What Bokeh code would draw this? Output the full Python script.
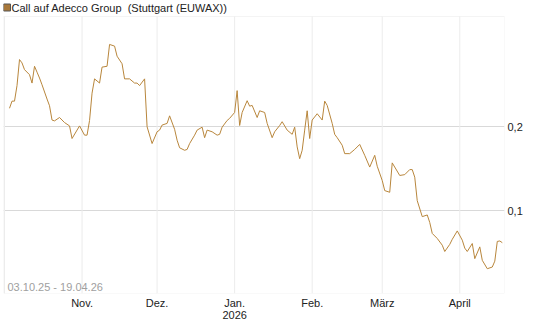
from datetime import datetime
import pandas as pd
from bokeh.plotting import figure
from bokeh.models import (Range1d, FixedTicker, CustomJSTickFormatter, LinearAxis,
                          Grid, Label, BoxAnnotation, ColumnDataSource)
from bokeh.embed import file_html
from bokeh.resources import INLINE

title_text = "Call auf Adecco Group \u00a0(Stuttgart (EUWAX))"
range_text = "03.10.25 - 19.04.26"

dates = [
    "2025-10-03", "2025-10-04", "2025-10-05", "2025-10-06", "2025-10-07", "2025-10-08",
    "2025-10-09", "2025-10-11", "2025-10-12", "2025-10-13", "2025-10-14", "2025-10-15",
    "2025-10-16", "2025-10-18", "2025-10-19", "2025-10-20", "2025-10-21", "2025-10-23",
    "2025-10-25", "2025-10-27", "2025-10-28", "2025-10-31",
    "2025-11-02", "2025-11-03", "2025-11-04", "2025-11-05", "2025-11-06", "2025-11-08",
    "2025-11-09", "2025-11-11", "2025-11-12", "2025-11-14", "2025-11-15", "2025-11-17",
    "2025-11-18", "2025-11-20", "2025-11-22", "2025-11-23", "2025-11-24", "2025-11-26",
    "2025-11-27", "2025-11-29",
    "2025-12-01", "2025-12-02", "2025-12-03", "2025-12-05", "2025-12-06", "2025-12-08",
    "2025-12-09", "2025-12-10", "2025-12-12", "2025-12-13", "2025-12-14", "2025-12-16",
    "2025-12-17", "2025-12-19", "2025-12-20", "2025-12-21", "2025-12-23", "2025-12-25",
    "2025-12-26", "2025-12-27", "2025-12-29", "2025-12-30",
    "2026-01-01", "2026-01-02", "2026-01-03", "2026-01-04", "2026-01-06", "2026-01-07",
    "2026-01-08", "2026-01-10", "2026-01-11", "2026-01-13", "2026-01-14", "2026-01-16",
    "2026-01-17", "2026-01-19", "2026-01-20", "2026-01-22", "2026-01-24", "2026-01-25",
    "2026-01-26", "2026-01-27", "2026-01-28", "2026-01-29", "2026-01-30", "2026-01-31",
    "2026-02-01", "2026-02-03", "2026-02-05", "2026-02-06", "2026-02-07", "2026-02-09",
    "2026-02-10", "2026-02-11", "2026-02-13", "2026-02-14", "2026-02-16", "2026-02-18",
    "2026-02-20", "2026-02-22", "2026-02-24", "2026-02-26", "2026-02-27",
    "2026-03-01", "2026-03-02", "2026-03-04", "2026-03-05", "2026-03-08", "2026-03-10",
    "2026-03-12", "2026-03-13", "2026-03-14", "2026-03-15", "2026-03-17", "2026-03-19",
    "2026-03-20", "2026-03-21", "2026-03-23", "2026-03-25", "2026-03-26", "2026-03-28",
    "2026-03-29", "2026-03-31",
    "2026-04-02", "2026-04-03", "2026-04-04", "2026-04-06", "2026-04-07", "2026-04-09",
    "2026-04-10", "2026-04-12", "2026-04-14", "2026-04-15", "2026-04-16", "2026-04-17",
    "2026-04-18",
]

prices = [
    0.222, 0.2305, 0.2305, 0.249, 0.280, 0.276,
    0.268, 0.262, 0.252, 0.272, 0.265, 0.258,
    0.250, 0.233, 0.225, 0.208, 0.207, 0.211,
    0.205, 0.201, 0.186, 0.201,
    0.190, 0.190, 0.2075, 0.240, 0.257, 0.252,
    0.271, 0.272, 0.298, 0.296, 0.284, 0.275,
    0.257, 0.257, 0.252, 0.252, 0.249, 0.257,
    0.200, 0.180,
    0.194, 0.196, 0.202, 0.204, 0.213, 0.197,
    0.184, 0.175, 0.172, 0.173, 0.180, 0.190,
    0.196, 0.1995, 0.187, 0.196, 0.194, 0.190,
    0.191, 0.1995, 0.2075, 0.210,
    0.217, 0.243, 0.2015, 0.217, 0.231, 0.2245,
    0.2254, 0.211, 0.219, 0.217, 0.204, 0.187,
    0.194, 0.2015, 0.206, 0.196, 0.191, 0.1995,
    0.176, 0.162, 0.172, 0.196, 0.219, 0.186,
    0.208, 0.2155, 0.208, 0.2305, 0.2254, 0.204,
    0.191, 0.187, 0.178, 0.168, 0.168, 0.173,
    0.179, 0.166, 0.152, 0.166, 0.153,
    0.136, 0.124, 0.122, 0.157, 0.142, 0.143,
    0.149, 0.149, 0.140, 0.112, 0.093, 0.095,
    0.086, 0.073, 0.067, 0.059, 0.0515, 0.060,
    0.066, 0.076,
    0.065, 0.0555, 0.0515, 0.061, 0.043, 0.057,
    0.041, 0.031, 0.033, 0.040, 0.0635, 0.064,
    0.062,
]

tick_dates = ["2025-10-01", "2025-11-01", "2025-12-01", "2026-01-01",
              "2026-02-01", "2026-03-01", "2026-04-01"]
tick_labels = ["", "Nov.", "Dez.", "Jan.\n2026", "Feb.", "März", "April"]
y_ticks = [0.1, 0.2]

FONT = "Liberation Sans"
LINE_COLOR = "#b8863c"

# chart area (value axis) limits; the strip above holds the title
Y_MIN, Y_TOP, Y_MAX = 0.0015, 0.3313, 0.3503

src = ColumnDataSource(dict(x=pd.to_datetime(dates), y=prices))
tick_ms = [int(pd.Timestamp(d).value // 10**6) for d in tick_dates]

p = figure(width=545, height=327, output_backend="svg", toolbar_location=None,
           x_axis_type=None, y_axis_type=None,
           x_range=Range1d(start=datetime(2025, 9, 30, 14, 24), end=datetime(2026, 4, 18, 21, 7)),
           y_range=Range1d(start=Y_MIN, end=Y_MAX),
           min_border_left=3, min_border_right=41, min_border_top=0, min_border_bottom=34,
           background_fill_color="white", border_fill_color="white")
p.outline_line_color = None

xaxis = LinearAxis(
    ticker=FixedTicker(ticks=tick_ms),
    formatter=CustomJSTickFormatter(args=dict(tv=tick_ms, tl=tick_labels),
                                    code="const i = tv.indexOf(tick); return i < 0 ? '' : tl[i];"),
    axis_line_color=None, major_tick_line_color=None, minor_tick_line_color=None,
    major_tick_in=0, major_tick_out=0, major_label_standoff=3,
    major_label_text_font=FONT, major_label_text_font_size="11px",
    major_label_text_color="#222222", major_label_text_line_height=1.0)
p.add_layout(xaxis, "below")

yaxis = LinearAxis(
    ticker=FixedTicker(ticks=y_ticks),
    formatter=CustomJSTickFormatter(code="return tick.toFixed(1).replace('.', ',');"),
    axis_line_color=None, major_tick_line_color=None, minor_tick_line_color=None,
    major_tick_in=0, major_tick_out=0, major_label_standoff=3,
    major_label_text_font=FONT, major_label_text_font_size="11px",
    major_label_text_color="#222222")
p.add_layout(yaxis, "right")

# horizontal grid
p.add_layout(Grid(dimension=1, ticker=yaxis.ticker, grid_line_color="#d9d9d9"))
# vertical month grid lines, limited to the chart area
p.segment(x0=pd.to_datetime(tick_dates), x1=pd.to_datetime(tick_dates),
          y0=Y_MIN, y1=Y_TOP, line_color="#ececec", line_width=1)

# chart border
p.add_layout(BoxAnnotation(top=Y_TOP, fill_alpha=0, fill_color=None,
                           line_color="#d6d6d6", line_width=1, level="underlay"))

p.line("x", "y", source=src, line_color=LINE_COLOR, line_width=1)

p.add_layout(Label(x=4, y=1, x_units="screen", y_units="screen", text=range_text,
                   text_font=FONT, text_font_size="11px", text_color="#a0a0a0",
                   text_baseline="bottom"))

p.add_layout(Label(x=8, y=286, x_units="screen", y_units="screen", text=title_text,
                   text_font=FONT, text_font_size="11px", text_color="#222222",
                   text_baseline="middle"))
p.add_layout(Label(x=0, y=286, x_units="screen", y_units="screen", text="\u2003",
                   text_font=FONT, text_font_size="7px", text_baseline="middle",
                   background_fill_color="#a8783a", border_line_color="#555555",
                   padding=0))

open("out.html", "w").write(file_html(p, INLINE))
